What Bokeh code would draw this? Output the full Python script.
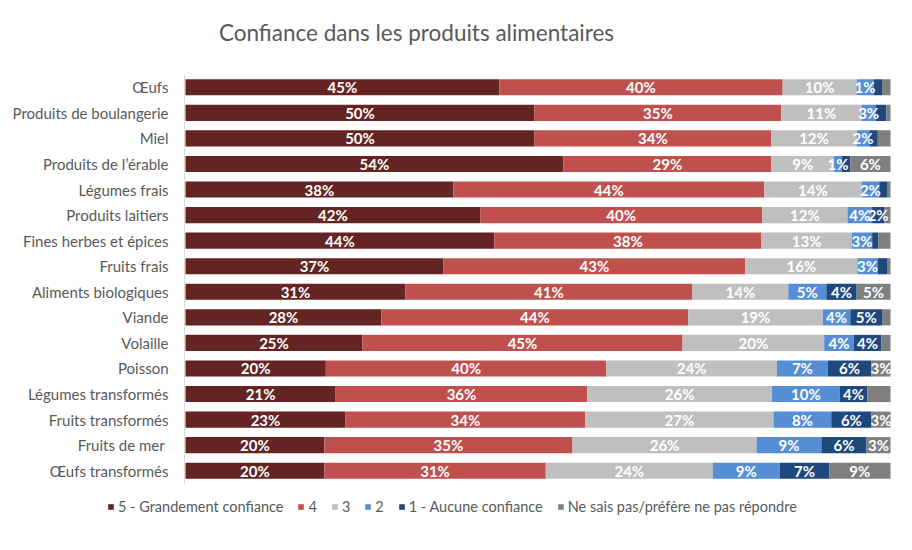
from bokeh.plotting import figure
from bokeh.models import ColumnDataSource, Range1d, Legend, LegendItem, Label
from bokeh.core.properties import value
from bokeh.embed import file_html
from bokeh.resources import INLINE

title_text = "Confiance dans les produits alimentaires"

categories = ["Œufs", "Produits de boulangerie", "Miel", "Produits de l’érable",
              "Légumes frais", "Produits laitiers", "Fines herbes et épices", "Fruits frais",
              "Aliments biologiques", "Viande", "Volaille", "Poisson",
              "Légumes transformés", "Fruits transformés", "Fruits de mer ", "Œufs transformés"]

series_names = ["5 - Grandement confiance", "4", "3", "2", "1 - Aucune confiance",
                "Ne sais pas/préfère ne pas répondre"]
colors = ["#632423", "#C0504D", "#BFBFBF", "#558ED5", "#1F497D", "#7F7F7F"]

# segment widths (% of respondents)
s5 = [44.5, 49.5, 49.5, 53.6, 38.0, 41.8, 43.8, 36.6, 31.2, 27.8, 25.1, 19.9, 21.3, 22.7, 19.7, 19.7]
s4 = [40.2, 35.0, 33.6, 29.5, 44.1, 40.0, 37.9, 42.8, 40.7, 43.5, 45.4, 39.8, 35.7, 34.0, 35.2, 31.4]
s3 = [10.5, 11.4, 12.1, 8.9, 13.8, 12.1, 12.8, 15.9, 13.6, 19.1, 20.1, 24.2, 26.2, 26.7, 26.1, 23.7]
s2 = [2.4, 2.0, 1.8, 1.1, 2.5, 3.5, 2.9, 2.9, 5.4, 3.9, 4.2, 7.2, 9.6, 8.2, 9.2, 9.5]
s1 = [1.2, 1.5, 1.2, 1.2, 1.1, 1.7, 0.9, 1.4, 4.3, 4.5, 3.9, 6.2, 3.9, 5.7, 6.4, 7.0]
sns = [1.2, 0.6, 1.8, 5.7, 0.5, 0.9, 1.7, 0.4, 4.8, 1.2, 1.3, 2.7, 3.3, 2.7, 3.4, 8.7]

# data labels as displayed (None = not shown)
l5 = [45, 50, 50, 54, 38, 42, 44, 37, 31, 28, 25, 20, 21, 23, 20, 20]
l4 = [40, 35, 34, 29, 44, 40, 38, 43, 41, 44, 45, 40, 36, 34, 35, 31]
l3 = [10, 11, 12, 9, 14, 12, 13, 16, 14, 19, 20, 24, 26, 27, 26, 24]
l2 = [1, 3, 2, 1, 2, 4, 3, 3, 5, 4, 4, 7, 10, 8, 9, 9]
l1 = [None, None, None, None, None, 2, None, None, 4, 5, 4, 6, 4, 6, 6, 7]
lns = [None, None, None, 6, None, None, None, None, 5, None, None, 3, None, 3, 3, 9]

series = [s5, s4, s3, s2, s1, sns]
labels = [l5, l4, l3, l2, l1, lns]
keys = ["s5", "s4", "s3", "s2", "s1", "sns"]

n = len(categories)
ypos = [n - 1 - i for i in range(n)]  # first category on top

src = ColumnDataSource(dict(cat=categories, y=ypos, **{k: v for k, v in zip(keys, series)}))

FONT = "Lato"
W, H = 896, 534
PX_X = 7.05      # pixels per percentage point
X0 = 185         # pixel where 0 % lies
PX_Y = 25.5625   # pixels per category row
Y_TOP = 86.8     # pixel of first row centre

p = figure(width=W, height=H,
           x_range=Range1d(-X0 / PX_X, (W - X0) / PX_X),
           y_range=Range1d((n - 1) - (H - Y_TOP) / PX_Y, (n - 1) + Y_TOP / PX_Y),
           output_backend="svg", toolbar_location=None,
           min_border_left=0, min_border_right=0, min_border_top=0, min_border_bottom=0)

renderers = p.hbar_stack(keys, y="y", height=0.63, fill_color=colors,
                         line_color=None, source=src)

# category axis: line and labels
p.segment(x0=[-1.0 / PX_X], x1=[-1.0 / PX_X], y0=[-0.5], y1=[n - 0.5],
          line_color="#D9D9D9", line_width=1)
p.text(x=[-17.0 / PX_X] * n, y=ypos, text=categories, text_font=value(FONT),
       text_font_size="15px", text_color="#595959", text_align="right",
       text_baseline="middle")

# data labels
tx, ty, tt = [], [], []
for i in range(n):
    left = 0.0
    for vals, labs in zip(series, labels):
        w = vals[i]
        if labs[i] is not None:
            tx.append(left + w / 2.0)
            ty.append(ypos[i])
            tt.append(f"{labs[i]}%")
        left += w
p.text(x=tx, y=ty, text=tt, text_font=value(FONT), text_font_style="bold",
       text_font_size="15px", text_color="white", text_align="center",
       text_baseline="middle")

p.xaxis.visible = False
p.yaxis.visible = False
p.xgrid.visible = False
p.ygrid.visible = False
p.outline_line_color = None

title = Label(x=416, y=H - 32, x_units="screen", y_units="screen", text=title_text,
              text_align="center", text_baseline="middle", text_font=FONT,
              text_font_size="22.5px", text_color="#595959")
p.add_layout(title)

items = [LegendItem(label=nm, renderers=[r]) for nm, r in zip(series_names, renderers)]
legend = Legend(items=items, orientation="horizontal", location=(107, H - 515),
                glyph_width=7, glyph_height=7, label_standoff=4, spacing=14,
                label_width=0, padding=0, margin=0, border_line_color=None,
                background_fill_alpha=0,
                label_text_font=FONT, label_text_font_size="14.5px",
                label_text_color="#595959", label_height=16)
p.add_layout(legend, "center")

open("out.html", "w").write(file_html(p, INLINE))
